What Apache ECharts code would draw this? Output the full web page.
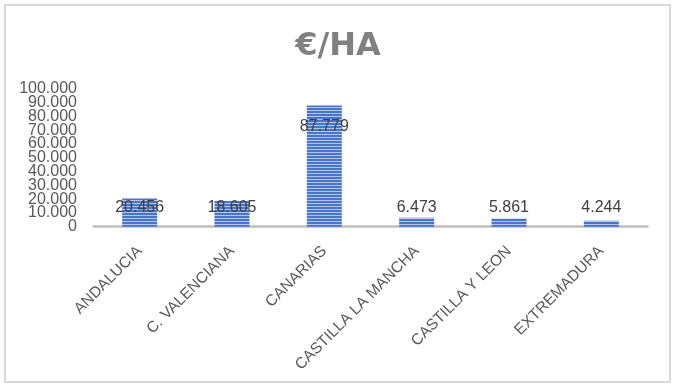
<!DOCTYPE html>
<html>
<head>
<meta charset="utf-8">
<script src="https://cdn.jsdelivr.net/npm/echarts@6/dist/echarts.min.js"></script>
<style>
html,body{margin:0;padding:0;background:#fff;}
#c{width:676px;height:386px;}
</style>
</head>
<body>
<div id="c"></div>
<script>
var categories = ['ANDALUCIA', 'C. VALENCIANA', 'CANARIAS', 'CASTILLA LA MANCHA', 'CASTILLA Y LEON', 'EXTREMADURA'];
var values = [20456, 18605, 87779, 6473, 5861, 4244];
var valueLabels = ['20.456', '18.605', '87.779', '6.473', '5.861', '4.244'];
var yTickValues = [0, 10000, 20000, 30000, 40000, 50000, 60000, 70000, 80000, 90000, 100000];
var yTickLabels = ['0', '10.000', '20.000', '30.000', '40.000', '50.000', '60.000', '70.000', '80.000', '90.000', '100.000'];

// striped pattern for bars
var pc = document.createElement('canvas');
pc.width = 4; pc.height = 3;
var pctx = pc.getContext('2d');
pctx.fillStyle = '#4a76c9'; pctx.fillRect(0, 0, 4, 2);
pctx.fillStyle = '#b0c6ee'; pctx.fillRect(0, 2, 4, 1);

var chart = echarts.init(document.getElementById('c'));

var data = values.map(function (v, i) {
  var item = { value: v };
  if (categories[i] === 'CANARIAS') {
    item.label = { position: 'insideTop', distance: 13 };
  }
  return item;
});

// split tick labels over two overlaid axes so none gets hidden
var evenTicks = yTickValues.filter(function (v, i) { return i % 2 === 0; });
var oddTicks = yTickValues.filter(function (v, i) { return i % 2 === 1; });

function yAxisDef(ticks) {
  return {
    type: 'value',
    position: 'left',
    min: 0,
    max: 100000,
    interval: 10000,
    splitLine: { show: false },
    axisLine: { show: false },
    axisTick: { show: false },
    axisLabel: {
      customValues: ticks,
      margin: 16.5,
      fontFamily: 'Liberation Sans',
      fontSize: 16,
      color: '#595959',
      formatter: function (v) { return yTickLabels[yTickValues.indexOf(v)]; }
    }
  };
}

chart.setOption({
  animation: false,
  backgroundColor: '#ffffff',
  title: {
    text: '€/HA',
    left: 'center',
    top: 26,
    textStyle: {
      fontFamily: 'DejaVu Sans',
      fontWeight: 'bold',
      fontSize: 32,
      color: '#808080'
    }
  },
  graphic: [{
    type: 'rect',
    shape: { x: 5, y: 5, width: 665, height: 377 },
    style: { fill: 'none', stroke: '#d9d9d9', lineWidth: 2 },
    silent: true
  }],
  grid: {
    left: 93.5,
    top: 88.7,
    width: 554,
    height: 138
  },
  xAxis: {
    type: 'category',
    data: categories,
    axisLine: { show: true, lineStyle: { color: '#bfbfbf', width: 2.5 } },
    axisTick: { show: false },
    axisLabel: {
      rotate: 45,
      interval: 0,
      margin: 22,
      fontFamily: 'Liberation Sans',
      fontSize: 15.5,
      color: '#595959'
    }
  },
  yAxis: [yAxisDef(evenTicks), yAxisDef(oddTicks)],
  series: [{
    type: 'bar',
    yAxisIndex: 0,
    data: data,
    barWidth: 35,
    itemStyle: { color: { image: pc, repeat: 'repeat' } },
    label: {
      show: true,
      position: 'insideBottom',
      distance: 11,
      fontFamily: 'Liberation Sans',
      fontSize: 16,
      color: '#404040',
      formatter: function (p) { return valueLabels[p.dataIndex]; }
    }
  }]
});
</script>
</body>
</html>
